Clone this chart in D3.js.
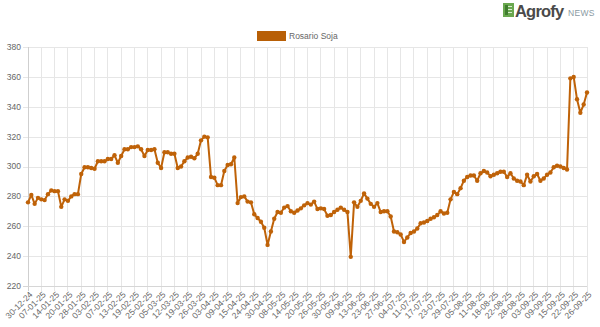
<!DOCTYPE html>
<html>
<head>
<meta charset="utf-8">
<script src="https://cdn.jsdelivr.net/npm/d3@7"></script>
<style>
  html, body { margin: 0; padding: 0; background: #fff; }
  svg { display: block; font-family: "Liberation Sans", Arial, Helvetica, sans-serif; }
</style>
</head>
<body>
<svg id="chart" width="600" height="327"></svg>
<script>
// ---- data ----
const seriesName = "Rosario Soja";
const tickLabels = ["30-12-24","07-01-25","14-01-25","20-01-25","28-01-25","03-02-25","07-02-25","13-02-25","19-02-25","25-02-25","05-03-25","12-03-25","19-03-25","26-03-25","03-04-25","09-04-25","15-04-25","24-04-25","30-04-25","08-05-25","14-05-25","20-05-25","26-05-25","30-05-25","09-06-25","13-06-25","23-06-25","27-06-25","04-07-25","11-07-25","17-07-25","23-07-25","29-07-25","05-08-25","11-08-25","18-08-25","22-08-25","28-08-25","03-09-25","09-09-25","15-09-25","22-09-25","26-09-25"];
const tickEvery = 4;
const values = [
  276,281,275,279,278,277.5,281.5,284,283.5,283.5,
  273,278,277,280,281.5,281.5,295,299.5,299.5,299,
  298.5,303.5,303.5,303.5,305,305,307.5,302.5,307,311.5,
  311.5,313,313,313.5,311.5,307,311,311,311.5,302.5,
  299,309.5,309.5,308.5,308.5,299,300,303.5,306,306.5,
  305.5,308.5,317.5,320,319.5,293,292.5,287.5,287.5,297,
  301,301.5,306,275.5,279.5,280,276.5,276,268,265.5,
  263,259,247.5,256.5,265,269.5,269,272.5,273.5,270,
  269,270.5,272,274,275.5,274.5,276.5,271.5,272,271.5,
  267,267.5,269.5,271,272.5,271,269.5,239.5,276,273,
  277,282,278.5,275,273,275.5,269.5,270,270,266.5,
  256.5,256,254.5,249.5,252.5,255.5,256.5,258.5,262,262.5,
  263.5,265,266,267.5,270,268.5,269,278,283,281.5,
  285.5,290.5,293,294,294,290.5,295.5,297,296,293.5,
  294.5,295.5,296.5,296.5,293,295.5,292,290.5,290,287.5,
  294.5,290,293.5,295,290.5,292,294.5,296,299.5,300.5,
  300,299,298,359,360,345,336,341.5,349.5
];
const yTicks = [220,240,260,280,300,320,340,360,380];

// ---- layout ----
const plot = { left: 28, right: 587, top: 47, bottom: 286 };
const lineColor = "#bf6208";
const gridColor = "#e6e6e6";
const textColor = "#666";

const svg = d3.select("#chart");

const x = d3.scaleLinear().domain([0, values.length - 1]).range([plot.left, plot.right]);
const y = d3.scaleLinear().domain([220, 380]).range([plot.bottom, plot.top]);

const tickIdx = tickLabels.map((d, i) => i * tickEvery);
const g = svg.append("g");

g.selectAll("line.vg").data(tickIdx).enter().append("line")
  .attr("x1", d => x(d)).attr("x2", d => x(d))
  .attr("y1", plot.top).attr("y2", plot.bottom + 5)
  .attr("stroke", gridColor).attr("stroke-width", 1)
  .attr("shape-rendering", "crispEdges");

g.selectAll("line.hg").data(yTicks).enter().append("line")
  .attr("x1", plot.left - 5).attr("x2", plot.right)
  .attr("y1", d => Math.round(y(d)) + 0.5).attr("y2", d => Math.round(y(d)) + 0.5)
  .attr("stroke", gridColor).attr("stroke-width", 1);

g.append("line").attr("x1", plot.left + 0.5).attr("x2", plot.left + 0.5)
  .attr("y1", plot.top).attr("y2", plot.bottom + 5)
  .attr("stroke", "#cfcfcf").attr("stroke-width", 1);
g.append("line").attr("x1", plot.left - 5).attr("x2", plot.right)
  .attr("y1", Math.round(y(220)) + 0.5).attr("y2", Math.round(y(220)) + 0.5)
  .attr("stroke", "#d6d6d6").attr("stroke-width", 1);

g.selectAll("text.yl").data(yTicks).enter().append("text")
  .attr("x", plot.left - 7).attr("y", d => y(d))
  .attr("dy", "0.35em").attr("text-anchor", "end")
  .attr("font-size", 8.5).attr("fill", textColor)
  .text(d => d);

g.selectAll("text.xl").data(tickIdx).enter().append("text")
  .attr("transform", d => `translate(${x(d) + 3},${plot.bottom + 7}) rotate(-45)`)
  .attr("text-anchor", "end").attr("dy", "0.35em")
  .attr("font-size", 8.5).attr("fill", textColor)
  .text((d, i) => tickLabels[i]);

const line = d3.line().x((d, i) => x(i)).y(d => y(d));
svg.append("path").datum(values)
  .attr("d", line).attr("fill", "none")
  .attr("stroke", lineColor).attr("stroke-width", 2)
  .attr("stroke-linejoin", "round");
svg.append("g").selectAll("circle").data(values).enter().append("circle")
  .attr("cx", (d, i) => x(i)).attr("cy", d => y(d)).attr("r", 2.2)
  .attr("fill", lineColor);

const lg = svg.append("g");
lg.append("rect").attr("x", 257).attr("y", 31).attr("width", 29).attr("height", 10)
  .attr("fill", "#b85f06");
lg.append("text").attr("x", 289).attr("y", 36).attr("dy", "0.35em")
  .attr("font-size", 8.5).attr("fill", textColor).text(seriesName);

const logo = svg.append("g");
logo.append("rect").attr("x", 503).attr("y", 3).attr("width", 11).attr("height", 14).attr("fill", "#6aa84f");
[6, 9, 12].forEach(yy => {
  logo.append("line").attr("x1", 505).attr("x2", 512).attr("y1", yy + 0.5).attr("y2", yy + 0.5)
    .attr("stroke", "#d9ecd0").attr("stroke-width", 1);
});
logo.append("rect").attr("x", 505).attr("y", 5).attr("width", 3).attr("height", 10).attr("fill", "#3f7d2e");
logo.append("text").attr("x", 515).attr("y", 16.5).attr("font-size", 16.5).attr("font-weight", "bold")
  .attr("fill", "#4a4a4a").attr("letter-spacing", -0.8).text("Agrofy");
logo.append("text").attr("x", 568).attr("y", 16).attr("font-size", 8.5)
  .attr("fill", "#8a9aa3").attr("letter-spacing", 0.3).text("NEWS");
</script>
</body>
</html>
